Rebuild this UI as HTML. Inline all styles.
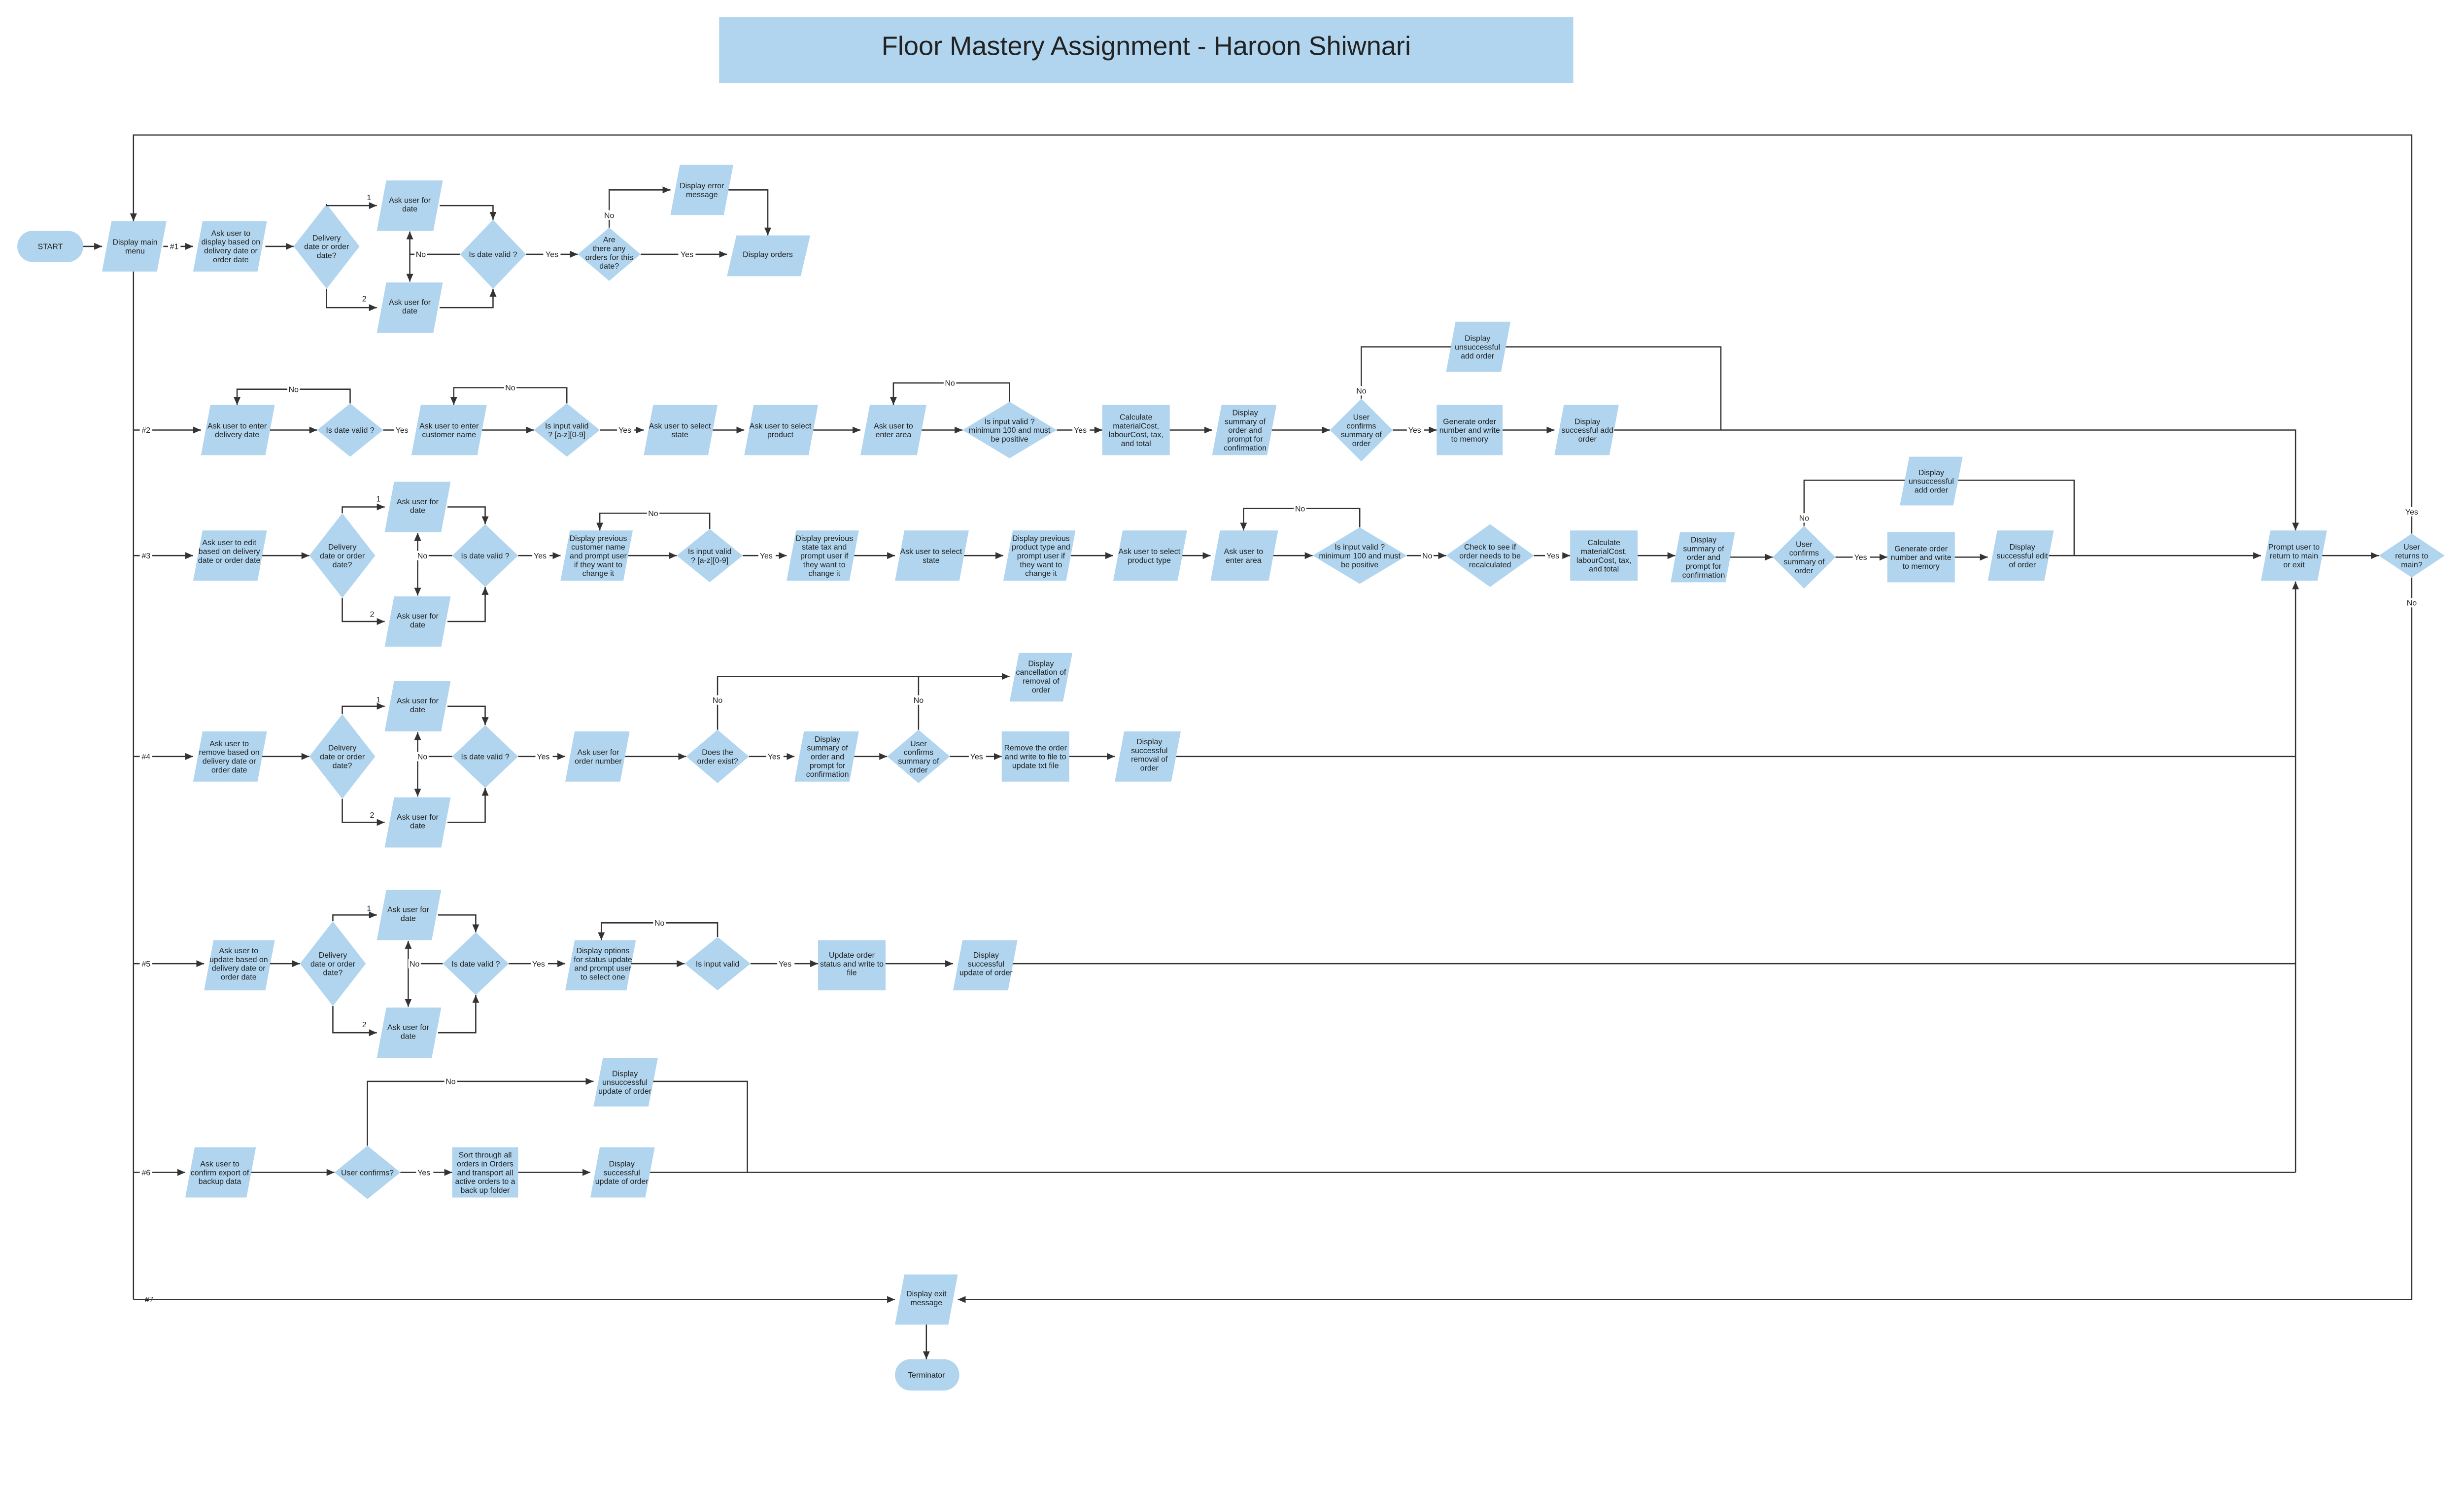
<!DOCTYPE html>
<html><head><meta charset="utf-8"><style>
html,body{margin:0;padding:0;background:#fff;overflow:hidden}
svg{display:block}
text{font-family:"Liberation Sans",sans-serif;font-size:5px;text-anchor:middle;fill:#222}
.n{fill:#b1d5ee;stroke:none}
.l{stroke:#333;stroke-width:0.8;fill:none}
.a{stroke:#333;stroke-width:0.8;fill:none;marker-end:url(#ar)}
.lb{font-size:5px}
</style></head><body>
<svg width="5289" height="3025" viewBox="0 0 1660 950" preserveAspectRatio="none" xmlns="http://www.w3.org/2000/svg">
<defs><marker id="ar" markerUnits="userSpaceOnUse" markerWidth="6" markerHeight="6" refX="5" refY="3" orient="auto"><path d="M0,0.8 L5,3 L0,5.2 z" fill="#333"/></marker></defs>

<rect x="458" y="11" width="544" height="42" class="n"/>
<text x="730" y="35" style="font-size:17px">Floor Mastery Assignment - Haroon Shiwnari</text>

<path class="a" d="M1536,340 L1536,86 L85,86 L85,141"/>
<path class="l" d="M85,173 L85,828"/>
<path class="a" d="M85,828 L570,828"/>
<path class="a" d="M1536,368 L1536,828 L610,828"/>
<text x="95" y="829.8" class="lb">#7</text>
<path class="a" d="M590,844 L590,866"/>
<rect x="570" y="866" width="41" height="20" rx="10" class="n"/>
<text x="590" y="877.8">Terminator</text>
<polygon class="n" points="576,812 610,812 604,844 570,844"/>
<text x="590" y="826">Display exit</text><text x="590" y="831.6">message</text>

<!-- ROW 1 -->
<rect x="11" y="147" width="42" height="20" rx="10" class="n"/>
<text x="32" y="158.8">START</text>
<path class="a" d="M53,157 L65,157"/>
<polygon class="n" points="71,141 106,141 100,173 65,173"/>
<text x="86" y="156">Display main</text><text x="86" y="161.6">menu</text>
<path class="a" d="M104,157 L123,157"/>
<rect x="107" y="154" width="8" height="6" fill="#fff"/><text x="111" y="158.8">#1</text>
<polygon class="n" points="129,141 170,141 164,173 123,173"/>
<text x="147" y="150.2">Ask user to</text><text x="147" y="155.8">display based on</text><text x="147" y="161.4">delivery date or</text><text x="147" y="167">order date</text>
<path class="a" d="M169,157 L187,157"/>
<polygon class="n" points="208,130 229,157 208,184 187,157"/>
<text x="208" y="153.2">Delivery</text><text x="208" y="158.8">date or order</text><text x="208" y="164.4">date?</text>
<path class="a" d="M208,130 L208,131 L240,131"/>
<text x="235" y="127.5">1</text>
<path class="a" d="M208,184 L208,196 L240,196"/>
<text x="232" y="192">2</text>
<polygon class="n" points="246,115 282,115 276,147 240,147"/>
<text x="261" y="129.2">Ask user for</text><text x="261" y="134.8">date</text>
<polygon class="n" points="246,180 282,180 276,212 240,212"/>
<text x="261" y="194.2">Ask user for</text><text x="261" y="199.8">date</text>
<path class="a" d="M280,131 L314,131 L314,140"/>
<path class="a" d="M280,196 L314,196 L314,184"/>
<polygon class="n" points="314,140 335,162 314,184 293,162"/>
<text x="314" y="163.8">Is date valid ?</text>
<path class="l" d="M293,162 L261,162"/>
<path class="a" d="M261,162 L261,147.5"/><path class="a" d="M261,162 L261,179.5"/>
<rect x="264" y="159" width="8" height="6" fill="#fff"/><text x="268" y="163.8">No</text>
<path class="a" d="M335,162 L368,162"/>
<rect x="346" y="159" width="11" height="6" fill="#fff"/><text x="351.5" y="163.8">Yes</text>
<polygon class="n" points="388,145 408,162 388,179 368,162"/>
<text x="388" y="154.4">Are</text><text x="388" y="160">there any</text><text x="388" y="165.6">orders for this</text><text x="388" y="171.2">date?</text>
<path class="a" d="M388,145 L388,121 L427,121"/>
<rect x="384" y="134" width="8" height="6" fill="#fff"/><text x="388" y="139">No</text>
<polygon class="n" points="433,105 467,105 461,137 427,137"/>
<text x="447" y="120">Display error</text><text x="447" y="125.6">message</text>
<path class="a" d="M464,121 L489,121 L489,150"/>
<path class="a" d="M408,162 L463,162"/>
<rect x="432" y="159" width="11" height="6" fill="#fff"/><text x="437.5" y="163.8">Yes</text>
<polygon class="n" points="469,150 516,150 510,176 463,176"/>
<text x="489" y="163.8">Display orders</text>

<!-- ROW 2 -->
<path class="a" d="M85,274 L128,274"/>
<rect x="89" y="271" width="8" height="6" fill="#fff"/><text x="93" y="275.8">#2</text>
<polygon class="n" points="134,258 175,258 169,290 128,290"/>
<text x="151" y="273">Ask user to enter</text><text x="151" y="278.6">delivery date</text>
<path class="a" d="M172,274 L202,274"/>
<polygon class="n" points="223,257 244,274 223,291 202,274"/>
<text x="223" y="275.8">Is date valid ?</text>
<path class="a" d="M223,257 L223,248 L151,248 L151,258"/>
<rect x="183" y="245" width="8" height="6" fill="#fff"/><text x="187" y="249.8">No</text>
<path class="a" d="M244,274 L262,274"/>
<rect x="251" y="271" width="11" height="6" fill="#fff"/><text x="256" y="275.8">Yes</text>
<polygon class="n" points="268,258 310,258 304,290 262,290"/>
<text x="286" y="273">Ask user to enter</text><text x="286" y="278.6">customer name</text>
<path class="a" d="M307,274 L340,274"/>
<polygon class="n" points="361,257 382,274 361,291 340,274"/>
<text x="361" y="273">Is input valid</text><text x="361" y="278.6">? [a-z][0-9]</text>
<path class="a" d="M361,257 L361,247 L289,247 L289,258"/>
<rect x="321" y="244" width="8" height="6" fill="#fff"/><text x="325" y="248.8">No</text>
<path class="a" d="M382,274 L410,274"/>
<rect x="393" y="271" width="11" height="6" fill="#fff"/><text x="398" y="275.8">Yes</text>
<polygon class="n" points="416,258 457,258 451,290 410,290"/>
<text x="433" y="273">Ask user to select</text><text x="433" y="278.6">state</text>
<path class="a" d="M454,274 L474,274"/>
<polygon class="n" points="480,258 521,258 515,290 474,290"/>
<text x="497" y="273">Ask user to select</text><text x="497" y="278.6">product</text>
<path class="a" d="M518,274 L548,274"/>
<polygon class="n" points="554,258 590,258 584,290 548,290"/>
<text x="569" y="273">Ask user to</text><text x="569" y="278.6">enter area</text>
<path class="a" d="M587,274 L613,274"/>
<polygon class="n" points="643,256 673,274 643,292 613,274"/>
<text x="643" y="270.2">Is input valid ?</text><text x="643" y="275.8">minimum 100 and must</text><text x="643" y="281.4">be positive</text>
<path class="a" d="M643,256 L643,244 L569,244 L569,258"/>
<rect x="601" y="241" width="8" height="6" fill="#fff"/><text x="605" y="245.8">No</text>
<path class="a" d="M673,274 L702,274"/>
<rect x="683" y="271" width="11" height="6" fill="#fff"/><text x="688" y="275.8">Yes</text>
<rect x="702" y="258" width="43" height="32" class="n"/>
<text x="723.5" y="267.4">Calculate</text><text x="723.5" y="273">materialCost,</text><text x="723.5" y="278.6">labourCost, tax,</text><text x="723.5" y="284.2">and total</text>
<path class="a" d="M745,274 L772,274"/>
<polygon class="n" points="778,258 813,258 807,290 772,290"/>
<text x="793" y="264.6">Display</text><text x="793" y="270.2">summary of</text><text x="793" y="275.8">order and</text><text x="793" y="281.4">prompt for</text><text x="793" y="287">confirmation</text>
<path class="a" d="M810,274 L847,274"/>
<polygon class="n" points="867,254 887,274 867,294 847,274"/>
<text x="867" y="267.4">User</text><text x="867" y="273">confirms</text><text x="867" y="278.6">summary of</text><text x="867" y="284.2">order</text>
<path class="l" d="M867,254 L867,221 L1096,221 L1096,274"/>
<rect x="863" y="246" width="8" height="6" fill="#fff"/><text x="867" y="250.8">No</text>
<polygon class="n" points="927,205 962,205 956,237 921,237"/>
<text x="941" y="217.2">Display</text><text x="941" y="222.8">unsuccessful</text><text x="941" y="228.4">add order</text>
<path class="a" d="M887,274 L915,274"/>
<rect x="896" y="271" width="11" height="6" fill="#fff"/><text x="901" y="275.8">Yes</text>
<rect x="915" y="258" width="42" height="32" class="n"/>
<text x="936" y="270.2">Generate order</text><text x="936" y="275.8">number and write</text><text x="936" y="281.4">to memory</text>
<path class="a" d="M957,274 L990,274"/>
<polygon class="n" points="996,258 1031,258 1025,290 990,290"/>
<text x="1011" y="270.2">Display</text><text x="1011" y="275.8">successful add</text><text x="1011" y="281.4">order</text>
<path class="a" d="M1028,274 L1462,274 L1462,338"/>

<!-- ROW 3 -->
<path class="a" d="M85,354 L123,354"/>
<rect x="89" y="351" width="8" height="6" fill="#fff"/><text x="93" y="355.8">#3</text>
<polygon class="n" points="129,338 170,338 164,370 123,370"/>
<text x="146" y="347.4">Ask user to edit</text><text x="146" y="353">based on delivery</text><text x="146" y="358.6">date or order date</text>
<path class="a" d="M167,354 L197,354"/>
<polygon class="n" points="218,327 239,354 218,381 197,354"/>
<text x="218" y="350.2">Delivery</text><text x="218" y="355.8">date or order</text><text x="218" y="361.4">date?</text>
<path class="a" d="M218,327 L218,323 L245,323"/>
<text x="241" y="319.5">1</text>
<path class="a" d="M218,381 L218,396 L245,396"/>
<text x="237" y="393">2</text>
<polygon class="n" points="251,307 287,307 281,339 245,339"/>
<text x="266" y="321.2">Ask user for</text><text x="266" y="326.8">date</text>
<polygon class="n" points="251,380 287,380 281,412 245,412"/>
<text x="266" y="394.2">Ask user for</text><text x="266" y="399.8">date</text>
<path class="a" d="M285,323 L309,323 L309,334"/>
<path class="a" d="M285,396 L309,396 L309,374"/>
<polygon class="n" points="309,334 330,354 309,374 288,354"/>
<text x="309" y="355.8">Is date valid ?</text>
<path class="l" d="M288,354 L266,354"/>
<path class="a" d="M266,354 L266,339.5"/><path class="a" d="M266,354 L266,379.5"/>
<rect x="265" y="351" width="8" height="6" fill="#fff"/><text x="269" y="355.8">No</text>
<path class="a" d="M330,354 L357,354"/>
<rect x="339" y="351" width="11" height="6" fill="#fff"/><text x="344" y="355.8">Yes</text>
<polygon class="n" points="363,338 403,338 397,370 357,370"/>
<text x="381" y="344.6">Display previous</text><text x="381" y="350.2">customer name</text><text x="381" y="355.8">and prompt user</text><text x="381" y="361.4">if they want to</text><text x="381" y="367">change it</text>
<path class="a" d="M400,354 L431,354"/>
<polygon class="n" points="452,337 473,354 452,371 431,354"/>
<text x="452" y="353">Is input valid</text><text x="452" y="358.6">? [a-z][0-9]</text>
<path class="a" d="M452,337 L452,327 L382,327 L382,338"/>
<rect x="412" y="324" width="8" height="6" fill="#fff"/><text x="416" y="328.8">No</text>
<path class="a" d="M473,354 L501,354"/>
<rect x="483" y="351" width="11" height="6" fill="#fff"/><text x="488" y="355.8">Yes</text>
<polygon class="n" points="507,338 547,338 541,370 501,370"/>
<text x="525" y="344.6">Display previous</text><text x="525" y="350.2">state tax and</text><text x="525" y="355.8">prompt user if</text><text x="525" y="361.4">they want to</text><text x="525" y="367">change it</text>
<path class="a" d="M544,354 L570,354"/>
<polygon class="n" points="576,338 617,338 611,370 570,370"/>
<text x="593" y="353">Ask user to select</text><text x="593" y="358.6">state</text>
<path class="a" d="M614,354 L639,354"/>
<polygon class="n" points="645,338 685,338 679,370 639,370"/>
<text x="663" y="344.6">Display previous</text><text x="663" y="350.2">product type and</text><text x="663" y="355.8">prompt user if</text><text x="663" y="361.4">they want to</text><text x="663" y="367">change it</text>
<path class="a" d="M682,354 L709,354"/>
<polygon class="n" points="715,338 756,338 750,370 709,370"/>
<text x="732" y="353">Ask user to select</text><text x="732" y="358.6">product type</text>
<path class="a" d="M753,354 L771,354"/>
<polygon class="n" points="777,338 814,338 808,370 771,370"/>
<text x="792" y="353">Ask user to</text><text x="792" y="358.6">enter area</text>
<path class="a" d="M811,354 L836,354"/>
<polygon class="n" points="866,336 896,354 866,372 836,354"/>
<text x="866" y="350.2">Is input valid ?</text><text x="866" y="355.8">minimum 100 and must</text><text x="866" y="361.4">be positive</text>
<path class="a" d="M866,336 L866,324 L792,324 L792,338"/>
<rect x="824" y="321" width="8" height="6" fill="#fff"/><text x="828" y="325.8">No</text>
<path class="a" d="M896,354 L921,354"/>
<rect x="905" y="351" width="8" height="6" fill="#fff"/><text x="909" y="355.8">No</text>
<polygon class="n" points="949,334 977,354 949,374 921,354"/>
<text x="949" y="350.2">Check to see if</text><text x="949" y="355.8">order needs to be</text><text x="949" y="361.4">recalculated</text>
<path class="a" d="M977,354 L1000,354"/>
<rect x="984" y="351" width="11" height="6" fill="#fff"/><text x="989" y="355.8">Yes</text>
<rect x="1000" y="338" width="43" height="32" class="n"/>
<text x="1021.5" y="347.4">Calculate</text><text x="1021.5" y="353">materialCost,</text><text x="1021.5" y="358.6">labourCost, tax,</text><text x="1021.5" y="364.2">and total</text>
<path class="a" d="M1043,354 L1067,354"/>
<polygon class="n" points="1070,339 1105,339 1099,371 1064,371"/>
<text x="1085" y="345.6">Display</text><text x="1085" y="351.2">summary of</text><text x="1085" y="356.8">order and</text><text x="1085" y="362.4">prompt for</text><text x="1085" y="368">confirmation</text>
<path class="a" d="M1102,355 L1129,355"/>
<polygon class="n" points="1149,335 1169,355 1149,375 1129,355"/>
<text x="1149" y="348.4">User</text><text x="1149" y="354">confirms</text><text x="1149" y="359.6">summary of</text><text x="1149" y="365.2">order</text>
<path class="l" d="M1149,335 L1149,306 L1321,306 L1321,354"/>
<rect x="1145" y="327" width="8" height="6" fill="#fff"/><text x="1149" y="331.8">No</text>
<polygon class="n" points="1216,291 1250,291 1244,322 1210,322"/>
<text x="1230" y="302.7">Display</text><text x="1230" y="308.3">unsuccessful</text><text x="1230" y="313.9">add order</text>
<path class="a" d="M1169,355 L1202,355"/>
<rect x="1180" y="352" width="11" height="6" fill="#fff"/><text x="1185" y="356.8">Yes</text>
<rect x="1202" y="339" width="43" height="32" class="n"/>
<text x="1223.5" y="351.2">Generate order</text><text x="1223.5" y="356.8">number and write</text><text x="1223.5" y="362.4">to memory</text>
<path class="a" d="M1245,355 L1266,355"/>
<polygon class="n" points="1272,338 1308,338 1302,370 1266,370"/>
<text x="1288" y="350.2">Display</text><text x="1288" y="355.8">successful edit</text><text x="1288" y="361.4">of  order</text>
<path class="a" d="M1305,354 L1440,354"/>
<polygon class="n" points="1446,338 1482,338 1476,370 1440,370"/>
<text x="1461" y="350.2">Prompt user to</text><text x="1461" y="355.8">return to main</text><text x="1461" y="361.4">or exit</text>
<path class="a" d="M1479,354 L1515,354"/>
<polygon class="n" points="1536,340 1557,354 1536,368 1515,354"/>
<text x="1536" y="350.2">User</text><text x="1536" y="355.8">returns to</text><text x="1536" y="361.4">main?</text>
<rect x="1530" y="323" width="12" height="6" fill="#fff"/><text x="1536" y="327.8">Yes</text>
<rect x="1532" y="381" width="8" height="6" fill="#fff"/><text x="1536" y="385.8">No</text>

<path class="a" d="M1462,747 L1462,370.5"/>

<!-- ROW 4 -->
<path class="a" d="M85,482 L123,482"/>
<rect x="89" y="479" width="8" height="6" fill="#fff"/><text x="93" y="483.8">#4</text>
<polygon class="n" points="129,466 170,466 164,498 123,498"/>
<text x="146" y="475.4">Ask user to</text><text x="146" y="481">remove based on</text><text x="146" y="486.6">delivery date or</text><text x="146" y="492.2">order date</text>
<path class="a" d="M167,482 L197,482"/>
<polygon class="n" points="218,455 239,482 218,509 197,482"/>
<text x="218" y="478.2">Delivery</text><text x="218" y="483.8">date or order</text><text x="218" y="489.4">date?</text>
<path class="a" d="M218,455 L218,450 L245,450"/>
<text x="241" y="447.5">1</text>
<path class="a" d="M218,509 L218,524 L245,524"/>
<text x="237" y="521">2</text>
<polygon class="n" points="251,434 287,434 281,466 245,466"/>
<text x="266" y="448.2">Ask user for</text><text x="266" y="453.8">date</text>
<polygon class="n" points="251,508 287,508 281,540 245,540"/>
<text x="266" y="522.2">Ask user for</text><text x="266" y="527.8">date</text>
<path class="a" d="M285,450 L309,450 L309,462"/>
<path class="a" d="M285,524 L309,524 L309,502"/>
<polygon class="n" points="309,462 330,482 309,502 288,482"/>
<text x="309" y="483.8">Is date valid ?</text>
<path class="l" d="M288,482 L266,482"/>
<path class="a" d="M266,482 L266,466.5"/><path class="a" d="M266,482 L266,507.5"/>
<rect x="265" y="479" width="8" height="6" fill="#fff"/><text x="269" y="483.8">No</text>
<path class="a" d="M330,482 L360,482"/>
<rect x="341" y="479" width="11" height="6" fill="#fff"/><text x="346" y="483.8">Yes</text>
<polygon class="n" points="366,466 401,466 395,498 360,498"/>
<text x="381" y="481">Ask user for</text><text x="381" y="486.6">order number</text>
<path class="a" d="M398,482 L437,482"/>
<polygon class="n" points="457,465 477,482 457,499 437,482"/>
<text x="457" y="481">Does the</text><text x="457" y="486.6">order exist?</text>
<path class="a" d="M457,465 L457,431 L643,431"/>
<rect x="453" y="443" width="8" height="6" fill="#fff"/><text x="457" y="447.8">No</text>
<path class="l" d="M585,465 L585,431"/>
<rect x="581" y="443" width="8" height="6" fill="#fff"/><text x="585" y="447.8">No</text>
<polygon class="n" points="649,416 683,416 677,447 643,447"/>
<text x="663" y="424.4">Display</text><text x="663" y="430">cancellation of</text><text x="663" y="435.6">removal of</text><text x="663" y="441.2">order</text>
<path class="a" d="M477,482 L506,482"/>
<rect x="488" y="479" width="11" height="6" fill="#fff"/><text x="493" y="483.8">Yes</text>
<polygon class="n" points="512,466 547,466 541,498 506,498"/>
<text x="527" y="472.6">Display</text><text x="527" y="478.2">summary of</text><text x="527" y="483.8">order and</text><text x="527" y="489.4">prompt for</text><text x="527" y="495">confirmation</text>
<path class="a" d="M544,482 L565,482"/>
<polygon class="n" points="585,465 605,482 585,499 565,482"/>
<text x="585" y="475.4">User</text><text x="585" y="481">confirms</text><text x="585" y="486.6">summary of</text><text x="585" y="492.2">order</text>
<path class="a" d="M605,482 L638,482"/>
<rect x="617" y="479" width="11" height="6" fill="#fff"/><text x="622" y="483.8">Yes</text>
<rect x="638" y="466" width="43" height="32" class="n"/>
<text x="659.5" y="478.2">Remove the order</text><text x="659.5" y="483.8">and write to file to</text><text x="659.5" y="489.4">update txt file</text>
<path class="a" d="M681,482 L710,482"/>
<polygon class="n" points="716,466 752,466 746,498 710,498"/>
<text x="732" y="474.2">Display</text><text x="732" y="479.8">successful</text><text x="732" y="485.4">removal of</text><text x="732" y="491">order</text>
<path class="l" d="M749,482 L1462,482"/>

<!-- ROW 5 -->
<path class="a" d="M85,614 L130,614"/>
<rect x="89" y="611" width="8" height="6" fill="#fff"/><text x="93" y="615.8">#5</text>
<polygon class="n" points="136,599 175,599 169,631 130,631"/>
<text x="152" y="607.4">Ask user to</text><text x="152" y="613">update based on</text><text x="152" y="618.6">delivery date or</text><text x="152" y="624.2">order date</text>
<path class="a" d="M172,614 L191,614"/>
<polygon class="n" points="212,587 233,614 212,641 191,614"/>
<text x="212" y="610.2">Delivery</text><text x="212" y="615.8">date or order</text><text x="212" y="621.4">date?</text>
<path class="a" d="M212,587 L212,583 L240,583"/>
<text x="235" y="580.5">1</text>
<path class="a" d="M212,641 L212,658 L240,658"/>
<text x="232" y="654.5">2</text>
<polygon class="n" points="246,567 281,567 275,599 240,599"/>
<text x="260" y="581.2">Ask user for</text><text x="260" y="586.8">date</text>
<polygon class="n" points="246,642 281,642 275,674 240,674"/>
<text x="260" y="656.2">Ask user for</text><text x="260" y="661.8">date</text>
<path class="a" d="M279,583 L303,583 L303,594"/>
<path class="a" d="M279,658 L303,658 L303,634"/>
<polygon class="n" points="303,594 324,614 303,634 282,614"/>
<text x="303" y="615.8">Is date valid ?</text>
<path class="l" d="M282,614 L260,614"/>
<path class="a" d="M260,614 L260,599.5"/><path class="a" d="M260,614 L260,641.5"/>
<rect x="260" y="611" width="8" height="6" fill="#fff"/><text x="264" y="615.8">No</text>
<path class="a" d="M324,614 L360,614"/>
<rect x="338" y="611" width="11" height="6" fill="#fff"/><text x="343" y="615.8">Yes</text>
<polygon class="n" points="366,599 405,599 399,631 360,631"/>
<text x="384" y="607.4">Display options</text><text x="384" y="613">for status update</text><text x="384" y="618.6">and prompt user</text><text x="384" y="624.2">to select one</text>
<path class="a" d="M402,614 L436,614"/>
<polygon class="n" points="457,597 478,614 457,631 436,614"/>
<text x="457" y="615.8">Is input valid</text>
<path class="a" d="M457,597 L457,588 L383,588 L383,599"/>
<rect x="416" y="585" width="8" height="6" fill="#fff"/><text x="420" y="589.8">No</text>
<path class="a" d="M478,614 L521,614"/>
<rect x="495" y="611" width="11" height="6" fill="#fff"/><text x="500" y="615.8">Yes</text>
<rect x="521" y="599" width="43" height="32" class="n"/>
<text x="542.5" y="610.2">Update order</text><text x="542.5" y="615.8">status and write to</text><text x="542.5" y="621.4">file</text>
<path class="a" d="M564,614 L607,614"/>
<polygon class="n" points="613,599 648,599 642,631 607,631"/>
<text x="628" y="610.2">Display</text><text x="628" y="615.8">successful</text><text x="628" y="621.4">update of order</text>
<path class="l" d="M645,614 L1462,614"/>

<!-- ROW 6 -->
<path class="a" d="M85,747 L118,747"/>
<rect x="89" y="744" width="8" height="6" fill="#fff"/><text x="93" y="748.8">#6</text>
<polygon class="n" points="124,731 163,731 157,763 118,763"/>
<text x="140" y="743.2">Ask user to</text><text x="140" y="748.8">confirm export of</text><text x="140" y="754.4">backup data</text>
<path class="a" d="M160,747 L213,747"/>
<polygon class="n" points="234,730 255,747 234,764 213,747"/>
<text x="234" y="748.8">User confirms?</text>
<path class="a" d="M234,730 L234,689 L378,689"/>
<rect x="283" y="686" width="8" height="6" fill="#fff"/><text x="287" y="690.8">No</text>
<polygon class="n" points="384,674 419,674 413,705 378,705"/>
<text x="398" y="685.7">Display</text><text x="398" y="691.3">unsuccessful</text><text x="398" y="696.9">update of order</text>
<path class="l" d="M416,689 L476,689 L476,747"/>
<path class="a" d="M255,747 L288,747"/>
<rect x="265" y="744" width="11" height="6" fill="#fff"/><text x="270" y="748.8">Yes</text>
<rect x="288" y="731" width="42" height="32" class="n"/>
<text x="309" y="737.6">Sort through all</text><text x="309" y="743.2">orders in Orders</text><text x="309" y="748.8">and transport all</text><text x="309" y="754.4">active orders to a</text><text x="309" y="760">back up folder</text>
<path class="a" d="M330,747 L376,747"/>
<polygon class="n" points="382,731 417,731 411,763 376,763"/>
<text x="396" y="743.2">Display</text><text x="396" y="748.8">successful</text><text x="396" y="754.4">update of order</text>
<path class="l" d="M414,747 L1462,747"/>
</svg>
</body></html>
